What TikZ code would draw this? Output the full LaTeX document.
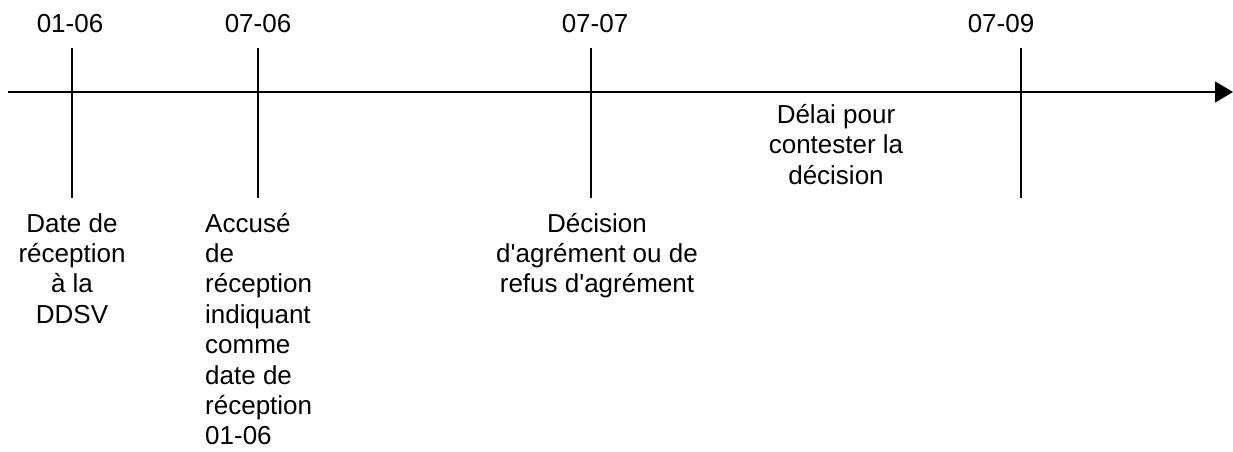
\documentclass[tikz,border=0pt]{standalone}
\usepackage{fontspec}
\setmainfont{Liberation Sans}
\usetikzlibrary{arrows.meta}
\tikzset{
  axisline/.style={line width=1.3pt, -{Triangle[length=18pt,width=21pt]}},
  tickline/.style={line width=1.1pt},
  lbl/.style={inner sep=0pt, font=\fontsize{26}{30.4}\selectfont},
}
\begin{document}
\begin{tikzpicture}[x=1pt,y=-1pt]
\useasboundingbox (0,0) rectangle (1233,452);
% axis
\coordinate (start) at (8,92);
\coordinate (end) at (1233,92);
\draw[axisline] (start) -- (end);
% ticks
\coordinate (t1a) at (72,48);  \coordinate (t1b) at (72,198);
\coordinate (t2a) at (258,48); \coordinate (t2b) at (258,198);
\coordinate (t3a) at (591,48); \coordinate (t3b) at (591,198);
\coordinate (t4a) at (1021,48); \coordinate (t4b) at (1021,198);
\draw[tickline] (t1a) -- (t1b);
\draw[tickline] (t2a) -- (t2b);
\draw[tickline] (t3a) -- (t3b);
\draw[tickline] (t4a) -- (t4b);
% dates
\node[lbl, anchor=base] (d1) at (70,33) {01-06};
\node[lbl, anchor=base] (d2) at (258,33) {07-06};
\node[lbl, anchor=base] (d3) at (595,33) {07-07};
\node[lbl, anchor=base] (d4) at (1001,33) {07-09};
% descriptions (anchored at the baseline of their last line)
\node[lbl, anchor=base, align=center] (e1) at (72,323.2) {Date de\\réception\\à la\\DDSV};
\node[lbl, anchor=base west, align=left] (e2) at (205,444.8) {Accusé\\de\\réception\\indiquant\\comme\\date de\\réception\\01-06};
\node[lbl, anchor=base, align=center] (e3) at (597,292.8) {Décision\\d\textquotesingle agrément ou de\\refus d\textquotesingle agrément};
\node[lbl, anchor=base, align=center] (e4) at (836,184) {Délai pour\\contester la\\décision};
\end{tikzpicture}
\end{document}
